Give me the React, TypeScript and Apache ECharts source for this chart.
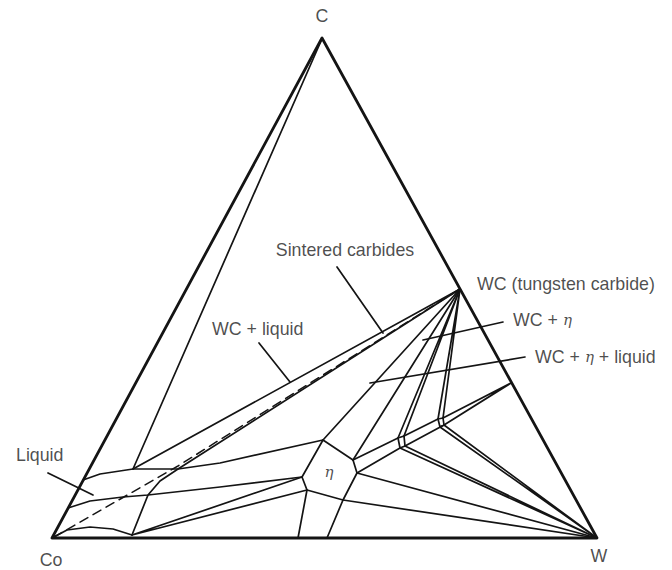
import React, { useEffect, useRef } from "react";
import * as echarts from "echarts";

// Diagram space: x to the right, y downward (same units as the 672x570 picture)
const CO = [52, 538];
const W = [597, 538];
const C = [322, 38];
const WC = [460, 289];

const outerTriangle = [CO, W, C, CO];
const innerBoundary = [[321, 41], [133, 469]];
const bandUpper = [[133, 469], WC];
const bandLower = [WC, [178, 469], [160, 481], [148, 495], [132, 535]];
const sinteredDashed = [[54, 537], [178, 466], WC];
const tieTop = [[83, 480], [100, 474], [133, 469], [178, 469], [220, 463], [323, 440]];
const tieMid = [[68, 508], [90, 501], [123, 497], [148, 495], [220, 487], [302, 477]];
const coCurve = [CO, [67, 530], [90, 527], [113, 529], [132, 535]];
const fanLeft = [[302, 477], [132, 535], [307, 490]];
const etaPhase = [[323, 440], [353, 460], [357, 473], [343, 500], [307, 490], [302, 477], [323, 440]];
const etaToWCa = [[323, 440], WC];
const etaToWCb = [[353, 460], WC];
const etaToNode1a = [[353, 460], [398, 438]];
const etaToNode1b = [[357, 473], [400, 448]];
const etaToWa = [[357, 473], W];
const etaToWb = [[343, 500], W];
const etaToBaseA = [[343, 500], [327, 538]];
const etaToBaseB = [[307, 490], [298, 538]];
const node1 = [[398, 438], [404, 436], [405, 446], [400, 448], [398, 438]];
const node2 = [[438, 419], [443, 418], [444, 425], [440, 427], [438, 419]];
const wcToNode1 = [[398, 438], WC, [404, 436]];
const wcToNode2 = [[438, 419], WC, [443, 418]];
const node1ToW = [[400, 448], W, [405, 446]];
const node2ToW = [[440, 427], W, [444, 425]];
const node1ToNode2a = [[404, 436], [438, 419]];
const node1ToNode2b = [[405, 446], [444, 425]];
const node2ToEdge = [[443, 418], [511, 383], [444, 425]];

const pointerSintered = [[337, 267], [383, 333]];
const pointerWCLiquid = [[259, 343], [290, 382]];
const pointerLiquid = [[48, 473], [93, 495]];
const pointerWCEta = [[423, 340], [503, 322]];
const pointerWCEtaLiquid = [[370, 383], [525, 357]];

const labelTexts = [
  "C",
  "Co",
  "W",
  "WC (tungsten carbide)",
  "Sintered carbides",
  "WC + liquid",
  "WC + {e|η}",
  "WC + {e|η} + liquid",
  "Liquid",
  "{e|η}",
];
const labelPositions = [
  [322, 16],
  [51, 560],
  [599, 556],
  [477, 284],
  [345, 250],
  [212, 329],
  [513, 320],
  [535, 357],
  [16, 455],
  [329, 472],
];
const labelAligns = ["center", "center", "center", "left", "center", "left", "left", "left", "left", "center"];

const thinLines = [
  innerBoundary, bandUpper, bandLower, tieTop, tieMid, coCurve, fanLeft, etaPhase,
  etaToWCa, etaToWCb, etaToNode1a, etaToNode1b, etaToWa, etaToWb, etaToBaseA, etaToBaseB,
  node1, node2, wcToNode1, wcToNode2, node1ToW, node2ToW, node1ToNode2a, node1ToNode2b,
  node2ToEdge, pointerSintered, pointerWCLiquid, pointerLiquid, pointerWCEta, pointerWCEtaLiquid,
];

const INK = "#141414";

export default function App() {
  const ref = useRef<HTMLDivElement>(null);
  useEffect(() => {
    if (!ref.current) return;
    const chart = echarts.init(ref.current, undefined, { renderer: "svg" });
    const series: any[] = [];
    const lineSeries = (pts: number[][], width: number, type: any = "solid") => ({
      type: "line",
      data: pts,
      showSymbol: false,
      symbol: "none",
      silent: true,
      lineStyle: { color: INK, width, type, cap: "round", join: "round" },
      z: 2,
    });
    series.push(lineSeries(outerTriangle, 2.8));
    thinLines.forEach((pts) => series.push(lineSeries(pts, 1.7)));
    series.push(lineSeries(sinteredDashed, 1.5, [9, 6]));
    series.push({
      type: "scatter",
      symbolSize: 0,
      silent: true,
      data: labelTexts.map((t, i) => ({
        value: labelPositions[i],
        label: {
          show: true,
          position: "inside",
          formatter: t,
          align: labelAligns[i],
          verticalAlign: "middle",
          color: "#1e1e1e",
          fontSize: t === "{e|η}" ? 15 : 17.8,
          fontFamily: "'Liberation Sans', Arial, sans-serif",
          rich: {
            e: {
              fontStyle: "italic",
              fontFamily: "'DejaVu Serif', 'Liberation Serif', serif",
              fontSize: 15,
              color: "#1e1e1e",
            },
          },
        },
      })),
      z: 5,
    });
    chart.setOption({
      animation: false,
      backgroundColor: "#ffffff",
      grid: { left: 0, right: 0, top: 0, bottom: 0, containLabel: false },
      xAxis: { type: "value", min: 0, max: 672, show: false },
      yAxis: { type: "value", min: 0, max: 570, inverse: true, show: false },
      series,
    });
    return () => chart.dispose();
  }, []);
  return (
    <div
      ref={ref}
      style={{ position: "fixed", left: 0, top: 0, width: 672, height: 570, background: "#fff" }}
    />
  );
}
